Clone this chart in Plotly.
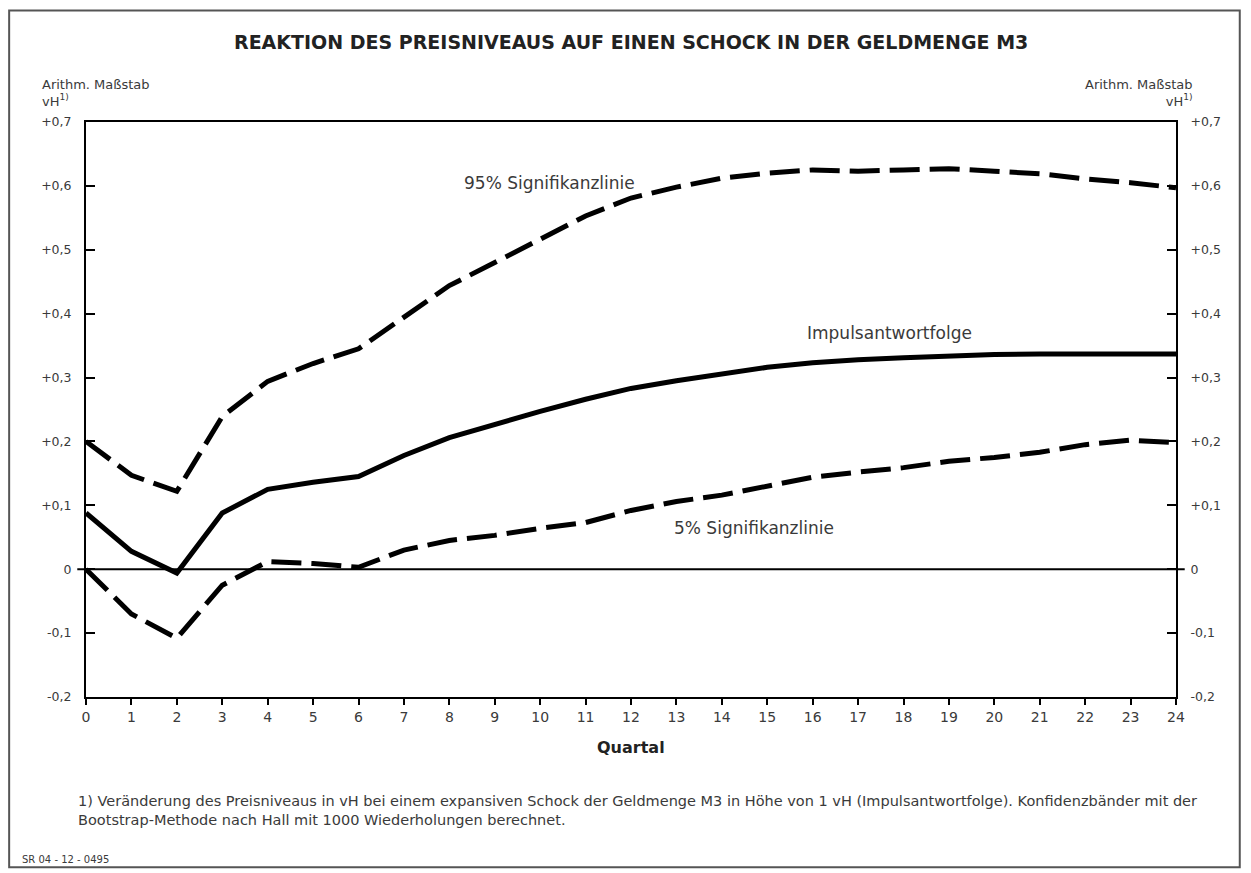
import plotly.graph_objects as go

# Quartale nach dem Schock
quartal = list(range(25))

# Impulsantwortfolge (vH)
impuls = [0.088, 0.028, -0.006, 0.088, 0.125, 0.136, 0.145, 0.178, 0.206, 0.227,
          0.247, 0.266, 0.283, 0.295, 0.306, 0.316, 0.323, 0.328, 0.331, 0.334,
          0.336, 0.337, 0.337, 0.337, 0.337]

# 95% Signifikanzlinie
obere = [0.200, 0.147, 0.122, 0.239, 0.294, 0.322, 0.345, 0.394, 0.444, 0.480,
         0.517, 0.553, 0.581, 0.598, 0.612, 0.620, 0.625, 0.623, 0.625, 0.627,
         0.623, 0.619, 0.611, 0.605, 0.597]

# 5% Signifikanzlinie
untere = [0.000, -0.070, -0.108, -0.025, 0.012, 0.009, 0.003, 0.030, 0.045, 0.053,
          0.064, 0.073, 0.092, 0.106, 0.116, 0.131, 0.144, 0.152, 0.159, 0.169,
          0.175, 0.183, 0.195, 0.202, 0.198]

y_ticks = [0.7, 0.6, 0.5, 0.4, 0.3, 0.2, 0.1, 0.0, -0.1, -0.2]
y_labels = ["+0,7", "+0,6", "+0,5", "+0,4", "+0,3", "+0,2", "+0,1", "0", "-0,1", "-0,2"]

FONT = "DejaVu Sans, Liberation Sans, sans-serif"
GREY = "#3a3a3a"

fig = go.Figure()
dash = "30px,10px"
fig.add_trace(go.Scatter(x=quartal, y=obere, mode="lines",
                         line=dict(color="black", width=5, dash=dash)))
fig.add_trace(go.Scatter(x=quartal, y=untere, mode="lines",
                         line=dict(color="black", width=5, dash=dash)))
fig.add_trace(go.Scatter(x=quartal, y=impuls, mode="lines",
                         line=dict(color="black", width=5)))
# invisible trace for the right-hand axis
fig.add_trace(go.Scatter(x=quartal, y=impuls, yaxis="y2", mode="lines",
                         line=dict(width=0), hoverinfo="skip", opacity=0))

axis_font = dict(family=FONT, size=12.5, color=GREY)
fig.update_layout(
    width=1235, height=865,
    margin=dict(l=78, r=67, t=114, b=176),
    paper_bgcolor="white", plot_bgcolor="white",
    showlegend=False,
    font=dict(family=FONT, color=GREY),
    xaxis=dict(range=[0, 24], tickvals=quartal, ticks="outside", ticklen=6,
               tickwidth=2, tickcolor="black", showline=True, linecolor="black",
               linewidth=2, mirror=True, showgrid=False, zeroline=False,
               tickfont=dict(family=FONT, size=14, color=GREY)),
    yaxis=dict(range=[-0.2, 0.7], tickvals=y_ticks, ticktext=y_labels,
               ticks="inside", ticklen=9, tickwidth=2, tickcolor="black",
               showline=True, linecolor="black", linewidth=2,
               ticklabelstandoff=10,
               showgrid=False, zeroline=False, tickfont=axis_font),
    yaxis2=dict(range=[-0.2, 0.7], tickvals=y_ticks, ticktext=y_labels,
                overlaying="y", side="right", ticks="inside", ticklen=9,
                tickwidth=2, tickcolor="black", showline=True,
                linecolor="black", linewidth=2, showgrid=False,
                ticklabelstandoff=10,
                zeroline=False, tickfont=axis_font),
)

# zero line, a bit past both axes
fig.add_shape(type="line", xref="paper", yref="y", x0=-0.008, x1=1.008,
              y0=0, y1=0, line=dict(color="black", width=2))

# outer frame
fig.add_shape(type="rect", xref="paper", yref="paper", x0=-0.0705, x1=1.0585,
              y0=-0.296, y1=1.194, line=dict(color="#555", width=2))

ann = []
ann.append(dict(text="<b>REAKTION DES PREISNIVEAUS AUF EINEN SCHOCK IN DER GELDMENGE M3</b>",
                x=0.5, y=1.139, xref="paper", yref="paper", yanchor="middle",
                showarrow=False, font=dict(family=FONT, size=19, color="#222")))
ann.append(dict(text="Arithm. Maßstab<br>vH<sup>1)</sup>", x=-0.042, y=1.082,
                xref="paper", yref="paper", xanchor="left", yanchor="top",
                align="left", showarrow=False, font=dict(family=FONT, size=13, color=GREY)))
ann.append(dict(text="Arithm. Maßstab<br>vH<sup>1)</sup>", x=1.017, y=1.082,
                xref="paper", yref="paper", xanchor="right", yanchor="top",
                align="right", showarrow=False, font=dict(family=FONT, size=13, color=GREY)))
ann.append(dict(text="<b>Quartal</b>", x=0.5, y=-0.088, xref="paper", yref="paper",
                yanchor="middle", showarrow=False,
                font=dict(family=FONT, size=16, color="#222")))
ann.append(dict(text="95% Signifikanzlinie", x=10.2, y=0.605, xref="x", yref="y",
                showarrow=False, font=dict(family=FONT, size=17, color=GREY)))
ann.append(dict(text="Impulsantwortfolge", x=17.7, y=0.369, xref="x", yref="y",
                showarrow=False, font=dict(family=FONT, size=17, color=GREY)))
ann.append(dict(text="5% Signifikanzlinie", x=14.7, y=0.064, xref="x", yref="y",
                showarrow=False, font=dict(family=FONT, size=17, color=GREY)))
ann.append(dict(text="1) Veränderung des Preisniveaus in vH bei einem expansiven Schock der Geldmenge M3 in Höhe von 1 vH (Impulsantwortfolge). Konfidenzbänder mit der<br>"
                     "Bootstrap-Methode nach Hall mit 1000 Wiederholungen berechnet.",
                x=-0.009, y=-0.163, xref="paper", yref="paper", xanchor="left",
                yanchor="top", align="left", showarrow=False,
                font=dict(family=FONT, size=14.5, color=GREY)))
ann.append(dict(text="SR 04 - 12 - 0495", x=-0.061, y=-0.283, xref="paper", yref="paper",
                xanchor="left", yanchor="middle", showarrow=False,
                font=dict(family=FONT, size=10, color=GREY)))
fig.update_layout(annotations=ann)

fig.write_html("out.html")
